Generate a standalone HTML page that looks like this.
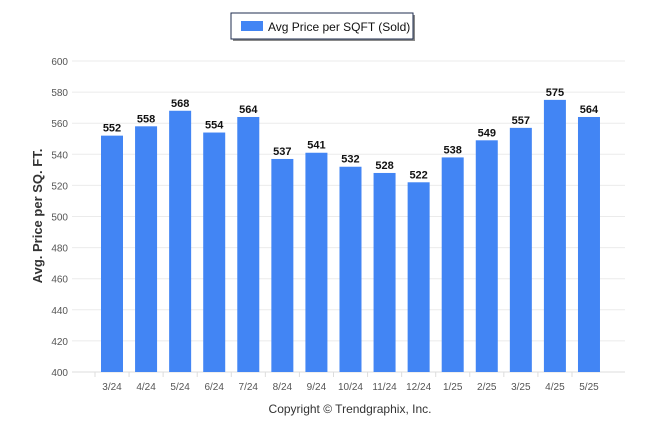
<!DOCTYPE html>
<html><head><meta charset="utf-8"><style>
body{margin:0;background:#fff;}
svg text{font-family:"Liberation Sans",Arial,sans-serif;}
</style></head><body>
<svg width="646" height="434">
<g>
<rect x="233" y="15" width="182" height="26" fill="#8a8a8a"/>
<rect x="231" y="13" width="182" height="26" fill="#fff" stroke="#1f2d4f" stroke-width="1"/>
<rect x="241" y="21" width="22" height="10" fill="#4285f4"/>
<text x="268" y="31" font-size="12" fill="#111">Avg Price per SQFT (Sold)</text>
</g>
<g id="grid"></g>
<g id="yt"></g>
<g id="bars"></g>
<g id="xt"></g>
<text transform="translate(42,216) rotate(-90)" text-anchor="middle" font-size="13" font-weight="bold" fill="#333">Avg. Price per SQ. FT.</text>
<text x="350" y="413" text-anchor="middle" font-size="12" fill="#333">Copyright © Trendgraphix, Inc.</text>
</svg>
<script>
const categories=["3/24","4/24","5/24","6/24","7/24","8/24","9/24","10/24","11/24","12/24","1/25","2/25","3/25","4/25","5/25"];
const values=[552,558,568,554,564,537,541,532,528,522,538,549,557,575,564];
const yTicks=[400,420,440,460,480,500,520,540,560,580,600];
const NS="http://www.w3.org/2000/svg";
function y(v){return 372-(v-400)*311/200;}
function x(i){return 112+i*34.07;}
function mk(p,t,a){const e=document.createElementNS(NS,t);for(const k in a)e.setAttribute(k,a[k]);p.appendChild(e);return e;}
const g=document.getElementById('grid'),yt=document.getElementById('yt'),b=document.getElementById('bars'),xt=document.getElementById('xt');
yTicks.forEach(v=>{
 const l=mk(g,'line',{x1:72,x2:625,y1:y(v),y2:y(v),stroke:v===400?'#ddd':'#ebebeb','stroke-width':1});
 
 
 const t=mk(yt,'text',{x:68,y:y(v)+4,'text-anchor':'end','font-size':10,fill:'#555'});t.textContent=v;
 
 
});
categories.forEach((c,i)=>{
 const r=mk(b,'rect',{x:x(i)-11,y:y(values[i]),width:22,height:372-y(values[i]),fill:'#4285f4'});
 
 
 const lb=mk(b,'text',{x:x(i),y:y(values[i])-4,'text-anchor':'middle','font-size':11,'font-weight':'bold',fill:'#111'});lb.textContent=values[i];
 
 
 const t=mk(xt,'text',{x:x(i),y:390,'text-anchor':'middle','font-size':10,fill:'#555'});t.textContent=c;
 
 
 const tk=mk(xt,'line',{x1:x(i)-17,x2:x(i)-17,y1:372,y2:377,stroke:'#ddd'});
 
 
});
</script>
</body></html>
